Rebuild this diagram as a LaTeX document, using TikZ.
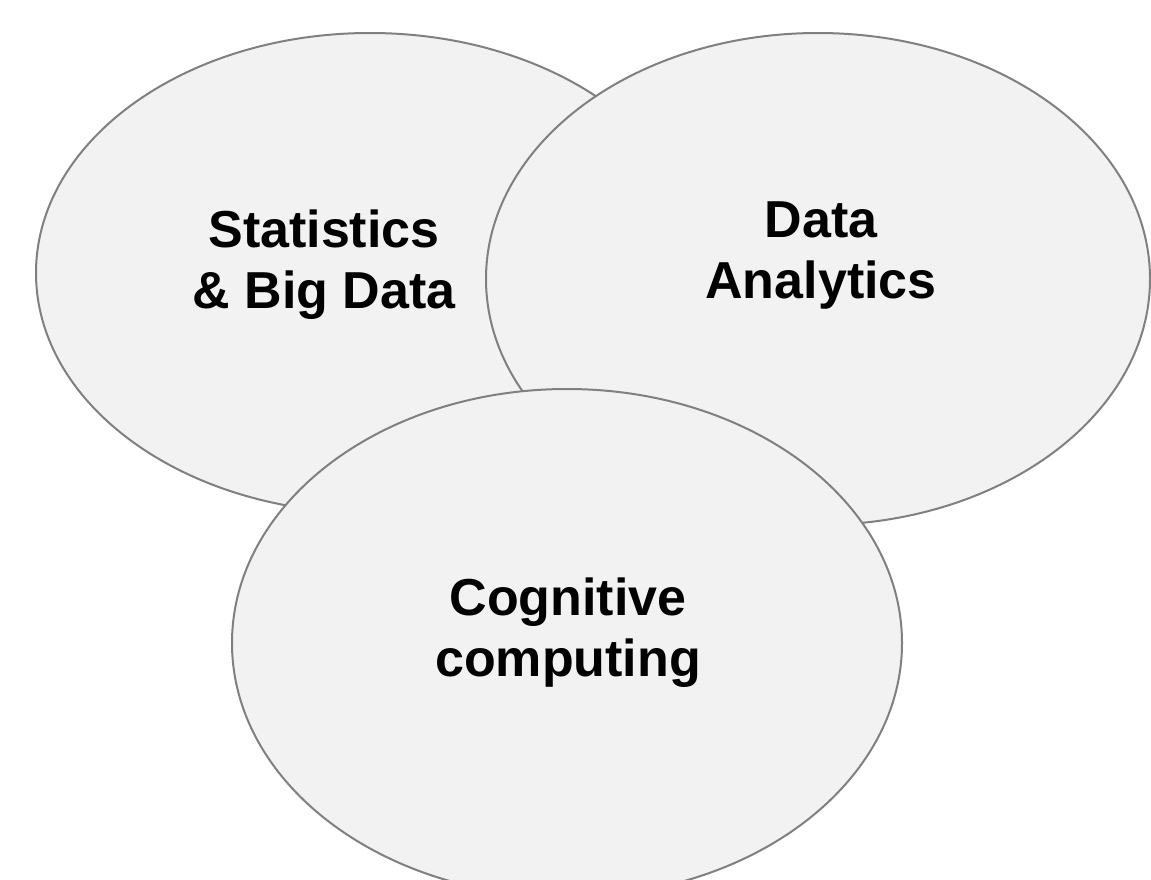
\documentclass[tikz,border=0pt]{standalone}
\usepackage{fontspec}
\setmainfont{Liberation Sans}
\usetikzlibrary{shapes.geometric}
\definecolor{ringfill}{HTML}{F2F2F2}
\definecolor{ringline}{HTML}{808080}
\begin{document}
\begin{tikzpicture}[x=1pt,y=-1pt,
  ring/.style={ellipse,draw=ringline,fill=ringfill,line width=2pt,inner sep=0pt},
  lbl/.style={align=center,inner sep=0pt,font=\fontsize{52}{61}\selectfont\bfseries}]
\useasboundingbox (0,0) rectangle (1151,880);
\clip (0,0) rectangle (1151,880);
\fill[white] (0,0) rectangle (1151,880);
\node[ring,minimum width=668pt,minimum height=480pt] (stat) at (370,273) {};
\node[ring,minimum width=664pt,minimum height=492pt] (data) at (818,279) {};
\node[ring,minimum width=670pt,minimum height=508pt] (cog) at (567,643) {};
\node[lbl] (statt) at (324,264.5) {Statistics\\\& Big Data};
\node[lbl] (datat) at (821,256) {Data\\Analytics};
\node[lbl] (cogt) at (568,633) {Cognitive\\computing};
\end{tikzpicture}
\end{document}
